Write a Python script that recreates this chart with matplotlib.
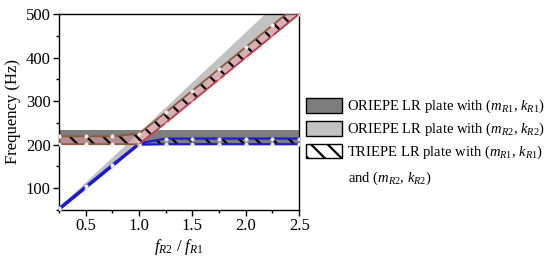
import numpy as np
import matplotlib
matplotlib.use("Agg")
import matplotlib.pyplot as plt
from matplotlib.patches import Patch
from matplotlib.ticker import MultipleLocator

plt.rcParams['font.family'] = ['Liberation Serif', 'DejaVu Serif']
plt.rcParams['mathtext.fontset'] = 'custom'
plt.rcParams['mathtext.rm'] = 'Liberation Serif'
plt.rcParams['mathtext.it'] = 'Liberation Serif:italic'
plt.rcParams['hatch.linewidth'] = 1.6

# frequency ratio f_R2 / f_R1
ratio = [0.25, 0.5, 0.75, 1.0, 1.25, 1.5, 1.75, 2.0, 2.25, 2.5]

# ORIEPE plate with (mR1, kR1): band gap limits (Hz)
ori1_low = [201, 201, 201, 201, 201, 201, 201, 201, 201, 201]
ori1_high = [234, 234, 234, 234, 234, 234, 234, 234, 234, 234]

# ORIEPE plate with (mR2, kR2)
ori2_low = [50, 100, 150, 200, 250, 300, 350, 400, 450, 500]
ori2_high = [57, 115, 172, 230, 287, 345, 402, 460, 517, 575]

# TRIEPE plate, upper gap
tri_up_low = [201, 201, 201, 201, 250, 300, 350, 400, 450, 500]
tri_up_high = [219, 219, 219, 225, 274, 324, 374, 424, 474, 524]

# TRIEPE plate, lower gap
tri_lo_low = [50, 100, 150, 200, 201, 201, 201, 201, 201, 201]
tri_lo_high = [54, 104, 154, 203, 214, 214, 214, 214, 214, 214]

dark = '#7d7d7d'
light = '#c2c2c2'
brown = '#8a5a3c'
blue = '#1c1cc8'

fig = plt.figure(figsize=(5.5, 2.58), dpi=100)
ax = fig.add_axes([0.107, 0.186, 0.437, 0.760])

ax.fill_between(ratio, ori1_low, ori1_high, color=dark, lw=0, zorder=1)
ax.fill_between(ratio, ori2_low, ori2_high, color=light, lw=0, zorder=2)

ax.fill_between(ratio, tri_up_low, tri_up_high, facecolor=(0.93, 0.62, 0.66, 0.5),
                edgecolor='black', hatch='\\\\', lw=0, zorder=3)
ax.plot(ratio, tri_up_low, color=brown, lw=1.3, marker='o', ms=2.5,
        mfc='white', mec='#f0d0d0', mew=0.5, zorder=5)
ax.plot(ratio[3:], tri_up_low[3:], color='#e0305a', lw=0.8, zorder=5)
ax.plot(ratio, tri_up_high, color=brown, lw=1.3, marker='o', ms=2.5,
        mfc='white', mec='#f0d0d0', mew=0.5, zorder=5)

ax.fill_between(ratio, tri_lo_low, tri_lo_high, facecolor='none',
                edgecolor='black', hatch='\\\\', lw=0, zorder=3)
ax.plot(ratio, tri_lo_low, color=blue, lw=1.6, marker='o', ms=2.5,
        mfc='white', mec='#d0d0ff', mew=0.5, zorder=4)
ax.plot(ratio, tri_lo_high, color=blue, lw=1.6, marker='o', ms=2.5,
        mfc='white', mec='#d0d0ff', mew=0.5, zorder=4)

ax.set_xlim(0.25, 2.5)
ax.set_ylim(50, 500)
ax.set_xticks([0.5, 1.0, 1.5, 2.0, 2.5])
ax.xaxis.set_minor_locator(MultipleLocator(0.25))
ax.yaxis.set_major_locator(MultipleLocator(100))
ax.yaxis.set_minor_locator(MultipleLocator(50))
ax.tick_params(which='both', direction='out', top=False, right=False,
               labelsize=12, width=1)
ax.tick_params(which='major', length=4, pad=2)
ax.tick_params(which='minor', length=2.5)
for s in ax.spines.values():
    s.set_linewidth(1.0)

ax.set_xlabel('$f_{R2}$ / $f_{R1}$', fontsize=12, labelpad=2)
ax.set_ylabel('Frequency (Hz)', fontsize=12, labelpad=3)

handles = [
    Patch(facecolor=dark, edgecolor='black', lw=1),
    Patch(facecolor=light, edgecolor='black', lw=1),
    Patch(facecolor='white', edgecolor='black', hatch='\\\\', lw=1),
]
labels = [
    'ORIEPE LR plate with ($m_{R1}$, $k_{R1}$)',
    'ORIEPE LR plate with ($m_{R2}$, $k_{R2}$)',
    'TRIEPE LR plate with ($m_{R1}$, $k_{R1}$)',
]
fig.legend(handles, labels, loc='upper left', bbox_to_anchor=(0.556, 0.620),
           frameon=False, fontsize=10.5, handlelength=2.47, handleheight=1.16,
           handletextpad=0.38, labelspacing=0.38, borderpad=0, borderaxespad=0)
fig.text(0.632, 0.310, 'and ($m_{R2}$, $k_{R2}$)', fontsize=10.5, va='center')

fig.savefig('out.png', dpi=100)
